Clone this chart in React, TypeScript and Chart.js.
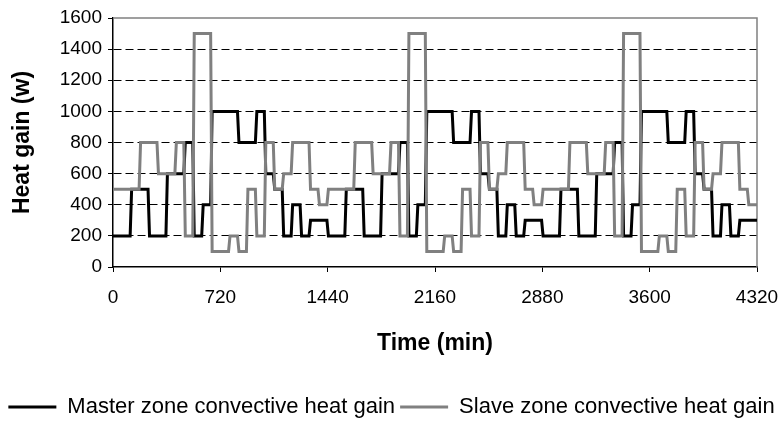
import React, { useEffect, useRef } from "react";
import { Chart, registerables } from "chart.js";

Chart.register(...registerables);

// Tick positions
const xTickValues = [0, 720, 1440, 2160, 2880, 3600, 4320];
const yTickValues = [0, 200, 400, 600, 800, 1000, 1200, 1400, 1600];

// Master zone: times (min) at which the value changes, and the value held from that time
const masterTimes = [
  0, 120, 240, 360, 480, 540, 600, 660, 840, 960, 1020, 1080, 1140, 1200, 1260, 1320,
  1440, 1560, 1680, 1800, 1920, 1980, 2040, 2100, 2280, 2400, 2460, 2520, 2580, 2640, 2700, 2760,
  2880, 3000, 3120, 3240, 3360, 3420, 3480, 3540, 3720, 3840, 3900, 3960, 4020, 4080, 4140, 4200,
];
const masterValues = [
  200, 500, 200, 600, 800, 200, 400, 1000, 800, 1000, 600, 500, 200, 400, 200, 300,
  200, 500, 200, 600, 800, 200, 400, 1000, 800, 1000, 600, 500, 200, 400, 200, 300,
  200, 500, 200, 600, 800, 200, 400, 1000, 800, 1000, 600, 500, 200, 400, 200, 300,
];

// Slave zone
const slaveTimes = [
  0, 180, 300, 420, 480, 540, 660, 780, 840, 900, 960, 1020, 1080, 1140, 1200, 1320, 1380,
  1440, 1620, 1740, 1860, 1920, 1980, 2100, 2220, 2280, 2340, 2400, 2460, 2520, 2580, 2640, 2760, 2820,
  2880, 3060, 3180, 3300, 3360, 3420, 3540, 3660, 3720, 3780, 3840, 3900, 3960, 4020, 4080, 4200, 4260,
];
const slaveValues = [
  500, 800, 600, 800, 200, 1500, 100, 200, 100, 500, 200, 800, 500, 600, 800, 500, 400,
  500, 800, 600, 800, 200, 1500, 100, 200, 100, 500, 200, 800, 500, 600, 800, 500, 400,
  500, 800, 600, 800, 200, 1500, 100, 200, 100, 500, 200, 800, 500, 600, 800, 500, 400,
];

const END_TIME = 4320;
const FONT = "'Liberation Sans', Arial, Helvetica, sans-serif";

function buildSteps(times: number[], values: number[], end: number) {
  const pts: { x: number; y: number }[] = [];
  const ramp = 5;
  for (let i = 0; i < times.length; i++) {
    const s = i === 0 ? times[i] : times[i] + ramp;
    const e = i === times.length - 1 ? end : times[i + 1] - ramp;
    pts.push({ x: s, y: values[i] }, { x: e, y: values[i] });
  }
  return pts;
}

const framePlugin = {
  id: "plotFrame",
  beforeDatasetsDraw(chart: any) {
    const { ctx, chartArea: a } = chart;
    ctx.save();
    ctx.strokeStyle = "#808080";
    ctx.lineWidth = 1.5;
    ctx.beginPath();
    ctx.moveTo(a.left, a.top);
    ctx.lineTo(a.right, a.top);
    ctx.lineTo(a.right, a.bottom);
    ctx.stroke();
    ctx.restore();
  },
};

export default function App() {
  const canvasRef = useRef<HTMLCanvasElement | null>(null);

  useEffect(() => {
    document.body.style.margin = "0";
    const canvas = canvasRef.current;
    if (!canvas) return;
    const chart = new Chart(canvas, {
      type: "line",
      data: {
        datasets: [
          {
            label: "Master zone convective heat gain",
            data: buildSteps(masterTimes, masterValues, END_TIME),
            borderColor: "#000000",
            backgroundColor: "#000000",
            borderWidth: 3,
            pointRadius: 0,
            fill: false,
            tension: 0,
            order: 1,
            borderJoinStyle: "miter",
          },
          {
            label: "Slave zone convective heat gain",
            data: buildSteps(slaveTimes, slaveValues, END_TIME),
            borderColor: "#808080",
            backgroundColor: "#808080",
            borderWidth: 3,
            pointRadius: 0,
            fill: false,
            tension: 0,
            order: 0,
            borderJoinStyle: "miter",
          },
        ],
      },
      options: {
        animation: false,
        responsive: true,
        maintainAspectRatio: false,
        parsing: false as any,
        layout: { padding: { top: 18, right: 0, left: 0, bottom: 0 } },
        plugins: {
          tooltip: { enabled: false },
          legend: {
            position: "bottom",
            labels: {
              usePointStyle: true,
              pointStyle: "line",
              pointStyleWidth: 48,
              color: "#000",
              padding: 5,
              font: { family: FONT, size: 22 },
              sort: (a: any, b: any) => a.datasetIndex - b.datasetIndex,
            },
          },
        },
        scales: {
          x: {
            type: "linear",
            min: 0,
            max: 4320,
            afterBuildTicks: (axis: any) => {
              axis.ticks = xTickValues.map((v) => ({ value: v }));
            },
            afterFit: (axis: any) => {
              axis.height = 124;
              axis.paddingLeft = 20;
              axis.paddingRight = 20;
            },
            ticks: {
              color: "#000",
              font: { family: FONT, size: 19 },
              padding: 14,
              maxRotation: 0,
              autoSkip: false,
              callback: (v: any) => String(v),
            },
            grid: {
              drawOnChartArea: false,
              drawTicks: true,
              tickLength: 5,
              tickColor: "#000",
              color: "#000",
            },
            border: { color: "#000", width: 1.5 },
            title: {
              display: true,
              text: "Time (min)",
              color: "#000",
              font: { family: FONT, size: 23, weight: "bold" },
              padding: { top: 0, bottom: 34 },
            },
          },
          y: {
            type: "linear",
            min: 0,
            max: 1600,
            afterBuildTicks: (axis: any) => {
              axis.ticks = yTickValues.map((v) => ({ value: v }));
            },
            afterFit: (axis: any) => {
              axis.width = 113;
            },
            ticks: {
              color: "#000",
              font: { family: FONT, size: 19 },
              padding: 6,
              callback: (v: any) => String(v),
            },
            grid: {
              drawTicks: true,
              tickLength: 5,
              tickColor: "#000",
              color: (ctx: any) =>
                ctx.tick && (ctx.tick.value === 1600 || ctx.tick.value === 0) ? "rgba(0,0,0,0)" : "#000",
              lineWidth: 1,
            },
            border: { color: "#000", width: 1.5, dash: [8, 4] },
            title: {
              display: true,
              text: "Heat gain (w)",
              color: "#000",
              font: { family: FONT, size: 23, weight: "bold" },
              padding: { top: 9, bottom: 0 },
            },
          },
          yRight: {
            type: "linear",
            position: "right",
            display: true,
            min: 0,
            max: 1,
            ticks: { display: false },
            grid: { display: false, drawTicks: false },
            border: { display: false },
            afterFit: (axis: any) => {
              axis.width = 26;
            },
          },
        },
      },
      plugins: [framePlugin],
    });
    return () => chart.destroy();
  }, []);

  return (
    <div style={{ position: "fixed", left: 0, top: 0, width: 783, height: 428, background: "#fff" }}>
      <canvas ref={canvasRef} />
    </div>
  );
}
